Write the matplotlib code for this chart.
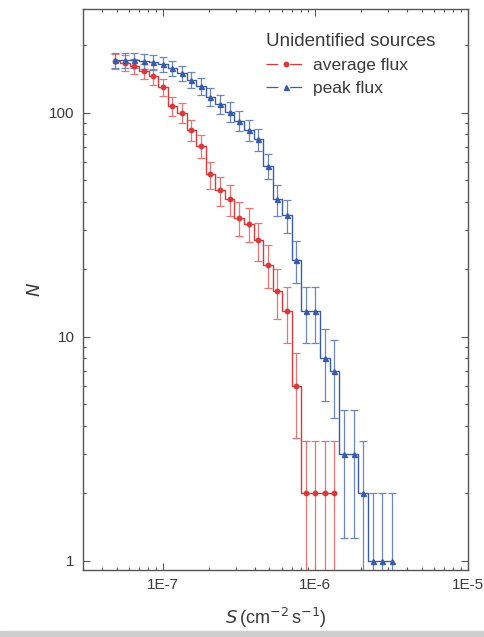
import matplotlib

matplotlib.use("Agg")
import matplotlib.pyplot as plt
from matplotlib.ticker import FixedLocator, FixedFormatter, LogLocator, NullFormatter

# Flux bins (cm^-2 s^-1), shared by both series
S_BINS = [4.87e-8, 5.62e-8, 6.49e-8, 7.50e-8, 8.66e-8, 1.00e-7, 1.155e-7, 1.334e-7,
          1.540e-7, 1.778e-7, 2.054e-7, 2.371e-7, 2.738e-7, 3.162e-7, 3.652e-7,
          4.217e-7, 4.870e-7, 5.623e-7, 6.494e-7, 7.499e-7, 8.660e-7, 1.000e-6,
          1.155e-6, 1.334e-6, 1.540e-6, 1.778e-6, 2.054e-6, 2.371e-6, 2.738e-6,
          3.162e-6]

# cumulative counts N(>S)
N_AVG = [170, 167, 161, 153, 145, 130, 107, 100, 84, 71, 53, 45, 41, 34, 32, 27,
         21, 16, 13, 6, 2, 2, 2, 2]
N_PEAK = [171, 171, 171, 170, 168, 165, 158, 150, 140, 131, 118, 109, 101, 92, 84,
          76, 58, 41, 35, 22, 13, 13, 8, 7, 3, 3, 2, 1, 1, 1]

X_TICKS = [1e-7, 1e-6, 1e-5]
X_LABELS = ["1E-7", "1E-6", "1E-5"]
Y_TICKS = [1, 10, 100]
Y_LABELS = ["1", "10", "100"]

RED = "#d8393a"
RED_ERR = "#e77676"
BLUE = "#3a5ca8"
BLUE_ERR = "#6d86bd"
INK = "#3a3a3a"

plt.rcParams.update({
    "font.family": ["Liberation Sans", "DejaVu Sans"],
    "axes.edgecolor": "#555555",
    "xtick.color": "#555555",
    "ytick.color": "#555555",
    "xtick.labelcolor": INK,
    "ytick.labelcolor": INK,
})

fig = plt.figure(figsize=(4.85, 6.37), dpi=100)
ax = fig.add_axes([83 / 485, 1 - 570 / 637, (468 - 83) / 485, (570 - 9) / 637])


def draw_series(n, color, ecolor, marker, msize):
    s = S_BINS[:len(n)]
    err = [v ** 0.5 for v in n]
    lower = [min(e, v - 1e-3) for e, v in zip(err, n)]
    ax.errorbar(s, n, yerr=[lower, err], fmt="none", ecolor=ecolor,
                elinewidth=0.9, capsize=3.2, capthick=0.9, zorder=2)
    ax.plot(s, n, drawstyle="steps-mid", color=color, linewidth=1.0, zorder=3)
    ax.plot(s, n, linestyle="none", marker=marker, markersize=msize, color=color,
            zorder=4)
    # legend handle: short dash, marker in a gap, short dash
    return ax.plot([], [], color=color, linewidth=0.9, marker=marker,
                   markersize=msize, linestyle=(0, (9.5, 9.5)))[0]


h_avg = draw_series(N_AVG, RED, RED_ERR, "o", 3.2)
h_peak = draw_series(N_PEAK, BLUE, BLUE_ERR, "^", 3.6)

ax.set_xscale("log")
ax.set_yscale("log")
ax.set_xlim(3e-8, 1e-5)
ax.set_ylim(0.91, 290)

ax.xaxis.set_major_locator(FixedLocator(X_TICKS))
ax.xaxis.set_major_formatter(FixedFormatter(X_LABELS))
ax.yaxis.set_major_locator(FixedLocator(Y_TICKS))
ax.yaxis.set_major_formatter(FixedFormatter(Y_LABELS))
ax.xaxis.set_minor_locator(LogLocator(base=10, subs=range(2, 10)))
ax.yaxis.set_minor_locator(LogLocator(base=10, subs=range(2, 10)))
ax.xaxis.set_minor_formatter(NullFormatter())
ax.yaxis.set_minor_formatter(NullFormatter())
ax.tick_params(which="both", direction="in", top=True, right=True, width=0.8)
ax.tick_params(which="major", length=5, labelsize=11, pad=6)
ax.tick_params(which="minor", length=2.5)
for sp in ax.spines.values():
    sp.set_linewidth(1.0)

ax.set_ylabel("$N$", fontsize=13, color=INK, labelpad=4)
ax.set_xlabel(r"$S\,$(cm$^{-2}\,$s$^{-1}$)", fontsize=13, color=INK, labelpad=10)

leg = ax.legend([h_avg, h_peak], ["average flux", "peak flux"],
                title="Unidentified sources", loc="upper right",
                bbox_to_anchor=(0.955, 0.985), frameon=False, fontsize=12.5,
                title_fontsize=13.5, handlelength=2.3, handletextpad=0.4,
                labelspacing=0.45, alignment="left", labelcolor=INK)
leg.get_title().set_color(INK)

# thin grey band at the very bottom of the scan
fig.patches.append(plt.Rectangle((0, 0), 1, 6 / 637, transform=fig.transFigure,
                                 color="#cfcfcf", zorder=0))

fig.savefig("out.png", dpi=100, facecolor="white")
